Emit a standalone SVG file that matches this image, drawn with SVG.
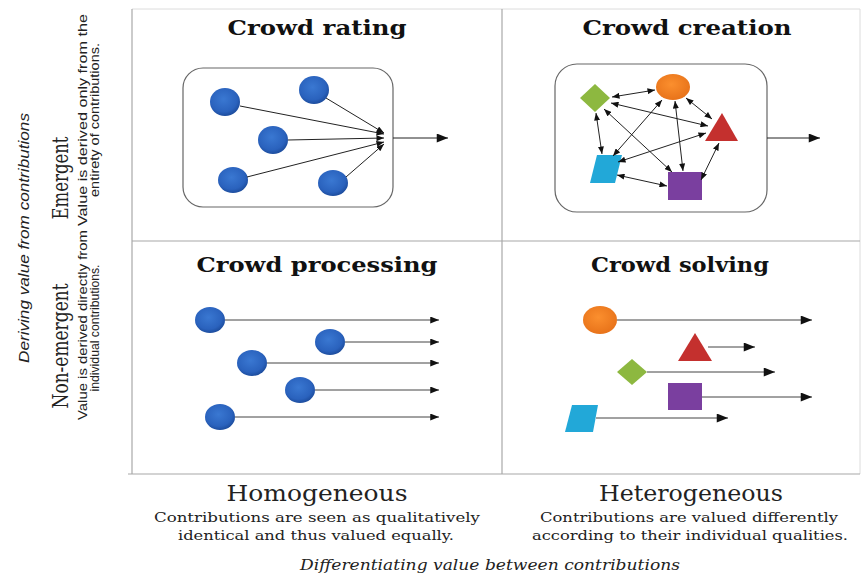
<svg xmlns="http://www.w3.org/2000/svg" width="865" height="577" viewBox="0 0 865 577">
<defs>
<marker id="ah" viewBox="0 0 10 8" refX="10" refY="4" markerWidth="9" markerHeight="7" markerUnits="userSpaceOnUse" orient="auto-start-reverse"><path d="M0,0 L10,4 L0,8 Z" fill="#111"/></marker>
<marker id="ahs" viewBox="0 0 10 8" refX="10" refY="4" markerWidth="8" markerHeight="6" markerUnits="userSpaceOnUse" orient="auto-start-reverse"><path d="M0,0 L10,4 L0,8 Z" fill="#111"/></marker>
<marker id="ahb" viewBox="0 0 10 8" refX="10" refY="4" markerWidth="12" markerHeight="9" markerUnits="userSpaceOnUse" orient="auto"><path d="M0,0 L10,4 L0,8 Z" fill="#111"/></marker>
<radialGradient id="gb" cx="45%" cy="40%" r="60%"><stop offset="0" stop-color="#3a78d2"/><stop offset="0.75" stop-color="#2a62bd"/><stop offset="1" stop-color="#1d4d9e"/></radialGradient>
<radialGradient id="go" cx="45%" cy="40%" r="60%"><stop offset="0" stop-color="#fb8f2e"/><stop offset="1" stop-color="#e8731a"/></radialGradient>
</defs>
<style>
.grid{stroke:#a8a8a8;stroke-width:1.2;fill:none}
.gridl{stroke:#dcdcdc;stroke-width:1;fill:none}
.box{fill:#fff;stroke:#666;stroke-width:1.2}
.title{font-family:"DejaVu Serif","Liberation Serif",serif;font-weight:bold;font-size:20px;fill:#111;text-anchor:middle}
.axis{font-family:"DejaVu Serif","Liberation Serif",serif;font-size:23px;fill:#222;text-anchor:middle}
.sub{font-family:"DejaVu Serif","Liberation Serif",serif;font-size:13px;fill:#222;text-anchor:middle}
.ital{font-family:"DejaVu Serif","Liberation Serif",serif;font-style:italic;font-size:14px;fill:#222;text-anchor:middle}
.vsub{font-family:"Liberation Sans","DejaVu Sans",sans-serif;font-size:12px;fill:#222;text-anchor:middle}
.vital{font-family:"Liberation Sans","DejaVu Sans",sans-serif;font-style:italic;font-size:14px;fill:#222;text-anchor:middle}
.blue{fill:url(#gb)}
.orange{fill:url(#go)}
.green{fill:#8db840}
.red{fill:#c4302e}
.cyan{fill:#22a8d8}
.purple{fill:#7a3f9f}
.ln{stroke:#222;stroke-width:1;fill:none}
.lg{stroke:#444;stroke-width:1;fill:none}
</style>

<g id="grid">
<line class="gridl" x1="132" y1="9" x2="860" y2="9"/>
<line class="gridl" x1="860" y1="9" x2="860" y2="474"/>
<line class="grid" x1="132" y1="9" x2="132" y2="474"/>
<line class="grid" x1="502" y1="9" x2="502" y2="474"/>
<line class="grid" x1="132" y1="241" x2="860" y2="241"/>
<line class="grid" x1="128" y1="474" x2="860" y2="474"/>
</g>

<g id="axis-labels">
<text class="vital" transform="translate(29,238) rotate(-90)" textLength="250" lengthAdjust="spacingAndGlyphs">Deriving value from contributions</text>
<text class="axis" transform="translate(68,178) rotate(-90)" textLength="83" lengthAdjust="spacingAndGlyphs">Emergent</text>
<text class="vsub" transform="translate(87,120) rotate(-90)" textLength="212" lengthAdjust="spacingAndGlyphs">Value is derived only from the</text>
<text class="vsub" transform="translate(99,120) rotate(-90)" textLength="154" lengthAdjust="spacingAndGlyphs">entirety of contributions.</text>
<text class="axis" transform="translate(68,346) rotate(-90)" textLength="125" lengthAdjust="spacingAndGlyphs">Non-emergent</text>
<text class="vsub" transform="translate(87,325) rotate(-90)" textLength="190" lengthAdjust="spacingAndGlyphs">Value is derived directly from</text>
<text class="vsub" transform="translate(99,328) rotate(-90)" textLength="127" lengthAdjust="spacingAndGlyphs">individual contributions.</text>
<text class="axis" x="317" y="501" textLength="181" lengthAdjust="spacingAndGlyphs">Homogeneous</text>
<text class="sub" x="317" y="522" textLength="326" lengthAdjust="spacingAndGlyphs">Contributions are seen as qualitatively</text>
<text class="sub" x="316" y="540" textLength="276" lengthAdjust="spacingAndGlyphs">identical and thus valued equally.</text>
<text class="axis" x="691" y="501" textLength="184" lengthAdjust="spacingAndGlyphs">Heterogeneous</text>
<text class="sub" x="689" y="522" textLength="298" lengthAdjust="spacingAndGlyphs">Contributions are valued differently</text>
<text class="sub" x="690" y="540" textLength="316" lengthAdjust="spacingAndGlyphs">according to their individual qualities.</text>
<text class="ital" x="490" y="570" textLength="380" lengthAdjust="spacingAndGlyphs">Differentiating value between contributions</text>
</g>

<g id="crowd-rating">
<text class="title" x="317" y="35" textLength="179" lengthAdjust="spacingAndGlyphs">Crowd rating</text>
<rect class="box" x="183" y="68" width="210" height="139" rx="20"/>
<ellipse class="blue" cx="225" cy="102" rx="15" ry="14"/>
<ellipse class="blue" cx="314" cy="90" rx="15" ry="14"/>
<ellipse class="blue" cx="273" cy="140" rx="15" ry="14"/>
<ellipse class="blue" cx="233" cy="180" rx="15" ry="13"/>
<ellipse class="blue" cx="333" cy="183" rx="15" ry="13"/>
</g>

<g id="crowd-creation">
<text class="title" x="687" y="35" textLength="209" lengthAdjust="spacingAndGlyphs">Crowd creation</text>
<rect class="box" x="555" y="64" width="212" height="148" rx="22"/>
<ellipse class="orange" cx="673" cy="87" rx="17" ry="13"/>
<polygon class="green" points="595,84 610,98 595,112 580,98"/>
<polygon class="red" points="722,113 738,141 705,141"/>
<polygon class="cyan" points="597,155 622,155 615,183 590,183"/>
<rect class="purple" x="668" y="172" width="34" height="28"/>
</g>

<g id="crowd-processing">
<text class="title" x="317" y="272" textLength="241" lengthAdjust="spacingAndGlyphs">Crowd processing</text>
<ellipse class="blue" cx="210" cy="320" rx="15" ry="13"/>
<ellipse class="blue" cx="330" cy="342" rx="15" ry="13"/>
<ellipse class="blue" cx="252" cy="363" rx="15" ry="13"/>
<ellipse class="blue" cx="300" cy="390" rx="15" ry="13"/>
<ellipse class="blue" cx="220" cy="417" rx="15" ry="13"/>
</g>

<g id="crowd-solving">
<text class="title" x="680" y="272" textLength="178" lengthAdjust="spacingAndGlyphs">Crowd solving</text>
<ellipse class="orange" cx="600" cy="320" rx="17" ry="14"/>
<polygon class="red" points="695,333 712,361 678,361"/>
<polygon class="green" points="632,359 647,372 632,385 617,372"/>
<rect class="purple" x="668" y="383" width="34" height="27"/>
<polygon class="cyan" points="572,405 598,405 593,432 565,432"/>
</g>

<g id="connectors">
<!-- crowd rating -->
<line class="ln" x1="240" y1="106" x2="384" y2="134" marker-end="url(#ahs)"/>
<line class="ln" x1="326" y1="98" x2="384" y2="133" marker-end="url(#ahs)"/>
<line class="ln" x1="288" y1="140" x2="384" y2="138" marker-end="url(#ahs)"/>
<line class="ln" x1="247" y1="177" x2="384" y2="142" marker-end="url(#ahs)"/>
<line class="ln" x1="346" y1="177" x2="384" y2="144" marker-end="url(#ahs)"/>
<line class="ln" x1="393" y1="138" x2="448" y2="138" stroke-width="1.5" marker-end="url(#ahb)"/>
<!-- crowd creation -->
<line class="ln" x1="655" y1="90" x2="612" y2="97" marker-start="url(#ahs)" marker-end="url(#ahs)"/>
<line class="ln" x1="686" y1="98" x2="712" y2="119" marker-start="url(#ahs)" marker-end="url(#ahs)"/>
<line class="ln" x1="675" y1="101" x2="683" y2="171" marker-start="url(#ahs)" marker-end="url(#ahs)"/>
<line class="ln" x1="662" y1="100" x2="613" y2="156" marker-start="url(#ahs)" marker-end="url(#ahs)"/>
<line class="ln" x1="611" y1="103" x2="708" y2="126" marker-start="url(#ahs)" marker-end="url(#ahs)"/>
<line class="ln" x1="604" y1="109" x2="672" y2="172" marker-start="url(#ahs)" marker-end="url(#ahs)"/>
<line class="ln" x1="596" y1="113" x2="602" y2="154" marker-start="url(#ahs)" marker-end="url(#ahs)"/>
<line class="ln" x1="706" y1="133" x2="618" y2="162" marker-start="url(#ahs)" marker-end="url(#ahs)"/>
<line class="ln" x1="719" y1="143" x2="701" y2="180" marker-start="url(#ahs)" marker-end="url(#ahs)"/>
<line class="ln" x1="617" y1="175" x2="667" y2="186" marker-start="url(#ahs)" marker-end="url(#ahs)"/>
<line class="ln" x1="767" y1="138" x2="820" y2="138" stroke-width="1.5" marker-end="url(#ahb)"/>
<!-- crowd processing -->
<line class="lg" x1="225" y1="320" x2="439" y2="320" marker-end="url(#ah)"/>
<line class="lg" x1="345" y1="342" x2="439" y2="342" marker-end="url(#ah)"/>
<line class="lg" x1="267" y1="363" x2="439" y2="363" marker-end="url(#ah)"/>
<line class="lg" x1="315" y1="390" x2="439" y2="390" marker-end="url(#ah)"/>
<line class="lg" x1="235" y1="417" x2="439" y2="417" marker-end="url(#ah)"/>
<!-- crowd solving -->
<line class="lg" x1="617" y1="320" x2="812" y2="320" marker-end="url(#ahb)"/>
<line class="lg" x1="708" y1="347" x2="755" y2="347" marker-end="url(#ahb)"/>
<line class="lg" x1="647" y1="372" x2="775" y2="372" marker-end="url(#ahb)"/>
<line class="lg" x1="702" y1="397" x2="812" y2="397" marker-end="url(#ahb)"/>
<line class="lg" x1="596" y1="418" x2="728" y2="418" marker-end="url(#ahb)"/>
</g>
</svg>
